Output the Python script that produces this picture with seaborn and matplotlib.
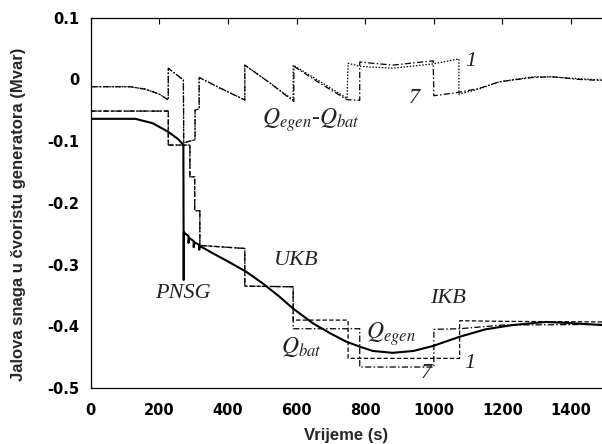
import matplotlib
matplotlib.use("Agg")
import matplotlib.pyplot as plt
import seaborn as sns
import pandas as pd

sns.set_theme(style="white")
plt.rcParams["font.family"] = ["Liberation Sans", "DejaVu Sans"]
plt.rcParams["mathtext.fontset"] = "stix"

# Reactive power at the generator node (Mvar) vs. time (s)
# Generator reactive power Q_egen (solid)
t_qegen = [0, 130, 180, 226, 255, 270, 271, 271.5, 285, 285, 287, 300, 300, 302, 316, 316, 318,
           360, 400, 454, 500, 550, 589, 647, 700, 745, 784, 822, 880, 940, 997, 1075, 1150,
           1229, 1327, 1400, 1490]
q_egen = [-0.064, -0.064, -0.071, -0.085, -0.097, -0.106, -0.325, -0.248, -0.254, -0.265, -0.257,
          -0.262, -0.272, -0.264, -0.268, -0.276, -0.270,
          -0.283, -0.295, -0.312, -0.330, -0.352, -0.371, -0.395, -0.412, -0.425, -0.433, -0.440,
          -0.443, -0.440, -0.432, -0.417, -0.405, -0.398, -0.393, -0.395, -0.398]

# Capacitor bank reactive power Q_bat, case 1 (dashed)
t_qbat_1 = [0, 226, 226, 289, 289, 303, 303, 318, 318, 449, 449, 590, 590, 750, 750, 1075, 1075,
            1200, 1490]
q_bat_1 = [-0.0514, -0.0514, -0.1065, -0.1065, -0.158, -0.158, -0.213, -0.213, -0.269, -0.274,
           -0.335, -0.336, -0.390, -0.390, -0.452, -0.452, -0.391, -0.392, -0.393]

# Capacitor bank reactive power Q_bat, case 7 (dash-dot)
t_qbat_7 = [0, 226, 226, 289, 289, 303, 303, 318, 318, 449, 449, 590, 590, 784, 784, 1000, 1000,
            1075, 1200, 1490]
q_bat_7 = [-0.0514, -0.0514, -0.1065, -0.1065, -0.158, -0.158, -0.213, -0.213, -0.269, -0.274,
           -0.335, -0.336, -0.404, -0.404, -0.466, -0.466, -0.405, -0.404, -0.398, -0.397]

# Difference Q_egen - Q_bat, case 1 (dotted)
t_diff_1 = [0, 115, 160, 200, 226, 226, 270, 271, 289, 304, 304, 316, 316, 380, 449, 449, 520,
            590, 590, 670, 747, 750, 784, 880, 998, 1073, 1073, 1130, 1191, 1288, 1346, 1420, 1490]
diff_1 = [-0.012, -0.012, -0.016, -0.024, -0.0335, 0.018, -0.001, -0.103, -0.100, -0.098, -0.050,
          -0.048, 0.003, -0.015, -0.0335, 0.023, -0.005, -0.0335, 0.023, -0.004, -0.031, 0.026,
          0.021, 0.018, 0.025, 0.033, -0.024, -0.016, -0.004, 0.004, 0.004, 0.001, -0.001]

# Difference Q_egen - Q_bat, case 7 (dash-dot)
t_diff_7 = [0, 115, 160, 200, 226, 226, 270, 271, 289, 304, 304, 316, 316, 380, 449, 449, 520,
            592, 592, 670, 747, 784, 784, 880, 998, 1000, 1073, 1130, 1191, 1288, 1346, 1420, 1490]
diff_7 = [-0.012, -0.012, -0.016, -0.024, -0.0335, 0.018, -0.001, -0.103, -0.100, -0.098, -0.050,
          -0.048, 0.003, -0.015, -0.0335, 0.023, -0.005, -0.036, 0.021, -0.007, -0.033, -0.034,
          0.028, 0.023, 0.030, -0.0266, -0.021, -0.015, -0.004, 0.003, 0.004, 0.000, -0.002]

x_ticks = [0, 200, 400, 600, 800, 1000, 1200, 1400]
y_ticks = [-0.5, -0.4, -0.3, -0.2, -0.1, 0, 0.1]
y_ticklabels = ["-0.5", "-0.4", "-0.3", "-0.2", "-0.1", "0", "0.1"]

series = [
    (t_diff_1, diff_1, (0, (1.2, 1.3)), 0.9),
    (t_diff_7, diff_7, (0, (5, 1.8, 1.2, 1.8)), 0.9),
    (t_qbat_1, q_bat_1, (0, (3.5, 1.8)), 0.9),
    (t_qbat_7, q_bat_7, (0, (5, 1.8, 1.2, 1.8)), 0.9),
    (t_qegen, q_egen, "-", 1.5),
]

fig = plt.figure(figsize=(6.02, 4.44), dpi=100)
ax = fig.add_axes([0.1507, 0.1261, 1.0 - 0.1507, 0.9604 - 0.1261])

for t, q, ls, lw in series:
    df = pd.DataFrame({"t": t, "q": q})
    sns.lineplot(data=df, x="t", y="q", ax=ax, estimator=None, sort=False,
                 color="black", linewidth=lw, linestyle=ls)

ax.set_xlim(0, 1490)
ax.set_ylim(-0.5, 0.1)
ax.set_xticks(x_ticks)
ax.set_xticklabels([str(v) for v in x_ticks])
ax.set_yticks(y_ticks)
ax.set_yticklabels(y_ticklabels)
ax.tick_params(direction="in", length=4, width=0.8, top=True, right=False,
               labelsize=10.5, colors="black")
ax.tick_params(axis="x", pad=11)
ax.tick_params(axis="y", pad=8)
for lab in ax.get_xticklabels() + ax.get_yticklabels():
    lab.set_fontweight("bold")
    lab.set_fontfamily("DejaVu Sans")
for side in ["left", "bottom", "top"]:
    ax.spines[side].set_color("black")
    ax.spines[side].set_linewidth(0.9)
ax.spines["right"].set_visible(False)

ax.set_xlabel("Vrijeme (s)", fontsize=12, fontweight="bold")
ax.set_ylabel("Jalova snaga u čvoristu generatora (Mvar)", fontsize=12, fontweight="bold")
ax.xaxis.set_label_coords(0.5, -0.108)
ax.yaxis.set_label_coords(-0.126, 0.47)

txt = dict(fontsize=16, fontfamily="Liberation Serif", fontstyle="italic",
           color="#222222", ha="center", va="center")
ax.text(270, -0.347, "PNSG", **txt)
ax.text(600, -0.293, "UKB", **txt)
ax.text(1041, -0.355, "IKB", **txt)
ax.text(641, -0.066, r"$Q_{egen}$-$Q_{bat}$", **{**txt, "fontsize": 17})
ax.text(614, -0.433, r"$Q_{bat}$", **{**txt, "fontsize": 17})
ax.text(876, -0.412, r"$Q_{egen}$", **{**txt, "fontsize": 17})
ax.text(1109, 0.0285, "1", **txt)
ax.text(944, -0.031, "7", **txt)
ax.text(1104, -0.460, "1", **txt)
ax.text(978, -0.476, "7", **txt)

fig.savefig("out.png", dpi=100)
